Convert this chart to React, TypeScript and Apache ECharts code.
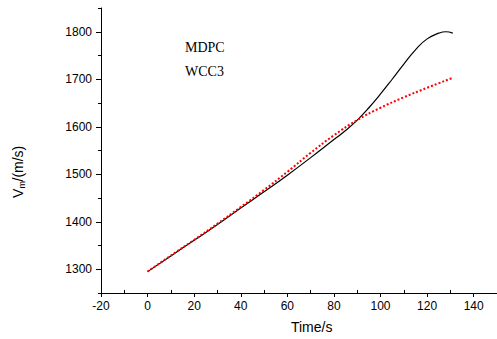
import { useEffect, useRef } from "react";
import * as echarts from "echarts";

// ---- data ----
const mdpcTime = [0, 10, 20, 30, 40, 50, 60, 70, 80, 85, 90, 95, 100, 105, 110, 115, 120, 125, 128, 131];
const mdpcVel = [1295, 1328, 1361, 1394, 1429, 1463, 1498, 1535, 1573, 1592, 1614, 1640, 1669, 1700, 1732, 1762, 1785, 1797, 1800, 1797];
const wccTime = [0, 10, 20, 30, 40, 50, 60, 70, 80, 90, 100, 110, 120, 131];
const wccVel = [1295, 1329, 1362, 1396, 1431, 1467, 1505, 1545, 1582, 1614, 1640, 1662, 1682, 1703];

const xMajor = [-20, 0, 20, 40, 60, 80, 100, 120, 140];
const xMinor = [-10, 10, 30, 50, 70, 90, 110, 130, 150];
const yMajor = [1300, 1400, 1500, 1600, 1700, 1800];
const yMinor = [1250, 1350, 1450, 1550, 1650, 1750, 1850];

const legendNames = ["MDPC", "WCC3"];
const xTitle = "Time/s";

const X_MIN = -20;
const X_MAX = 150;
const Y_MIN = 1250;
const Y_MAX = 1850;

export default function App() {
  const ref = useRef<HTMLDivElement>(null);

  useEffect(() => {
    if (!ref.current) return;
    const chart = echarts.init(ref.current, null, { renderer: "svg" });
    const sans = "Liberation Sans";
    const axisColor = "#000";
    const plain = (v: number) => String(v);

    const option: any = {
      animation: false,
      backgroundColor: "#fff",
      grid: { left: 101, top: 8, width: 397.4, height: 285, containLabel: false },
      xAxis: [
        {
          type: "value",
          min: X_MIN,
          max: X_MAX,
          position: "bottom",
          axisLine: { show: true, onZero: false, lineStyle: { color: axisColor, width: 1 } },
          axisTick: { show: true, customValues: xMajor, length: 4, inside: false, lineStyle: { color: axisColor } },
          axisLabel: {
            show: true,
            customValues: xMajor,
            formatter: plain,
            margin: 7,
            color: "#000",
            fontSize: 12,
            fontFamily: sans,
          },
          splitLine: { show: false },
        },
        {
          type: "value",
          min: X_MIN,
          max: X_MAX,
          position: "bottom",
          axisLine: { show: false, onZero: false },
          axisTick: { show: true, customValues: xMinor, length: 3, inside: true, lineStyle: { color: axisColor } },
          axisLabel: { show: false },
          splitLine: { show: false },
        },
      ],
      yAxis: [
        {
          type: "value",
          min: Y_MIN,
          max: Y_MAX,
          position: "left",
          axisLine: { show: true, onZero: false, lineStyle: { color: axisColor, width: 1 } },
          axisTick: { show: true, customValues: yMajor, length: 5, inside: false, lineStyle: { color: axisColor } },
          axisLabel: {
            show: true,
            customValues: yMajor,
            formatter: plain,
            margin: 9,
            color: "#000",
            fontSize: 12,
            fontFamily: sans,
          },
          splitLine: { show: false },
        },
        {
          type: "value",
          min: Y_MIN,
          max: Y_MAX,
          position: "left",
          axisLine: { show: false, onZero: false },
          axisTick: { show: true, customValues: yMinor, length: 3, inside: false, lineStyle: { color: axisColor } },
          axisLabel: { show: false },
          splitLine: { show: false },
        },
      ],
      series: [
        {
          name: legendNames[0],
          type: "line",
          xAxisIndex: 0,
          yAxisIndex: 0,
          data: mdpcTime.map((t, i) => [t, mdpcVel[i]]),
          smooth: true,
          showSymbol: false,
          symbol: "none",
          lineStyle: { color: "#000", width: 1.2 },
          z: 2,
        },
        {
          name: legendNames[1],
          type: "line",
          xAxisIndex: 0,
          yAxisIndex: 0,
          data: wccTime.map((t, i) => [t, wccVel[i]]),
          smooth: true,
          showSymbol: false,
          symbol: "none",
          lineStyle: { color: "#ff0000", width: 2, type: [2, 2] },
          z: 3,
        },
      ],
      graphic: [
        {
          type: "text",
          left: 185,
          top: 40,
          style: { text: legendNames[0], fontFamily: "Liberation Serif", fontSize: 14, fill: "#000" },
        },
        {
          type: "text",
          left: 185,
          top: 64,
          style: { text: legendNames[1], fontFamily: "Liberation Serif", fontSize: 14, fill: "#000" },
        },
        {
          type: "text",
          x: 311.7,
          y: 326.7,
          style: {
            text: xTitle,
            fontFamily: sans,
            fontSize: 14,
            fill: "#000",
            align: "center",
            verticalAlign: "middle",
          },
        },
        {
          type: "group",
          x: 17.5,
          y: 198,
          rotation: Math.PI / 2,
          children: [
            {
              type: "text",
              x: 0,
              y: 0,
              style: { text: "V", fontFamily: sans, fontSize: 14, fill: "#000", align: "left", verticalAlign: "middle" },
            },
            {
              type: "text",
              x: 9.5,
              y: 4.5,
              style: { text: "m", fontFamily: sans, fontSize: 9, fill: "#000", align: "left", verticalAlign: "middle" },
            },
            {
              type: "text",
              x: 16.5,
              y: 0,
              style: { text: "/(m/s)", fontFamily: sans, fontSize: 14, fill: "#000", align: "left", verticalAlign: "middle" },
            },
          ],
        },
      ],
    };

    chart.setOption(option);
    return () => chart.dispose();
  }, []);

  return (
    <div
      ref={ref}
      style={{ position: "absolute", left: 0, top: 0, width: 497, height: 339, background: "#fff" }}
    />
  );
}
